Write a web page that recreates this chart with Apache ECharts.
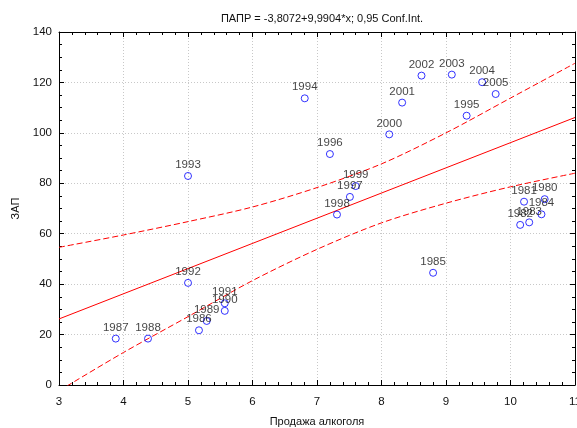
<!DOCTYPE html>
<html>
<head>
<meta charset="utf-8">
<script src="https://cdn.jsdelivr.net/npm/echarts@6/dist/echarts.min.js"></script>
<style>
  html, body { margin: 0; padding: 0; background: #fff; overflow: hidden; }
  #chart { width: 577px; height: 428px; }
</style>
</head>
<body>
<div id="chart"></div>
<script>
// годы (подписи точек)
const years = [1980, 1981, 1982, 1983, 1984, 1985, 1986, 1987, 1988, 1989, 1990, 1991, 1992,
  1993, 1994, 1995, 1996, 1997, 1998, 1999, 2000, 2001, 2002, 2003, 2004, 2005]
// Продажа алкоголя
const alcohol = [10.53, 10.21, 10.15, 10.29, 10.48, 8.80, 5.17, 3.88, 4.38, 5.29, 5.57, 5.57, 5.00,
  5.00, 6.81, 9.32, 7.20, 7.51, 7.31, 7.60, 8.12, 8.32, 8.62, 9.09, 9.56, 9.77]
// ЗАП
const zap = [73.7, 72.7, 63.5, 64.5, 67.7, 44.5, 21.7, 18.4, 18.4, 25.4, 29.4, 32.4, 40.5,
  82.9, 113.7, 106.8, 91.6, 74.6, 67.6, 78.9, 99.4, 112.0, 122.7, 123.1, 120.1, 115.4]

// линия регрессии
const regX = [3, 11]
const regY = [26.2, 106.1]

// доверительный интервал 0,95
const bandX = [3, 4, 5, 6, 7, 8, 9, 10, 11]
const upperBand = [54.6, 59.5, 64.8, 70.6, 78.3, 87.7, 100.0, 113.8, 127.6]
const lowerBand = [-2.3, 12.9, 27.1, 41.4, 53.8, 64.3, 72.1, 78.6, 84.0]

const xTicks = [3, 4, 5, 6, 7, 8, 9, 10, 11]
const yTicks = [0, 20, 40, 60, 80, 100, 120, 140]

const font = 'Arial, "Liberation Sans", sans-serif'
const myChart = echarts.init(document.getElementById('chart'))

const points = alcohol.map((x, i) => [x, zap[i], years[i]])
const pair = (xs, ys) => xs.map((x, i) => [x, ys[i]])

const baseX = {
  type: 'value',
  min: xTicks[0],
  max: xTicks[xTicks.length - 1],
  interval: 1,
  axisLine: { show: true, onZero: false, lineStyle: { color: '#000', width: 1 } },
  axisTick: { show: true, inside: true, length: 5, lineStyle: { color: '#000' } },
  minorTick: { show: true, splitNumber: 5, length: 3, lineStyle: { color: '#000' } }
}
const baseY = {
  type: 'value',
  min: yTicks[0],
  max: yTicks[yTicks.length - 1],
  interval: 20,
  axisLine: { show: true, onZero: false, lineStyle: { color: '#000', width: 1 } },
  axisTick: { show: true, inside: true, length: 5, lineStyle: { color: '#000' } },
  minorTick: { show: true, splitNumber: 4, length: 3, lineStyle: { color: '#000' } }
}

const bandStyle = { color: '#ff0000', width: 1, type: [6, 3] }

const option = {
  animation: false,
  backgroundColor: '#fff',
  textStyle: { fontFamily: font },
  title: {
    text: 'ПАПР = -3,8072+9,9904*x; 0,95 Conf.Int.',
    left: 317,
    textAlign: 'center',
    top: 8,
    textStyle: { fontSize: 11, fontWeight: 'normal', color: '#111', fontFamily: font }
  },
  grid: { left: 59, right: 2, top: 32, bottom: 43, containLabel: false, outerBoundsMode: 'none' },
  xAxis: [
    Object.assign({}, baseX, {
      position: 'bottom',
      name: 'Продажа алкоголя',
      nameLocation: 'middle',
      nameGap: 31,
      nameTextStyle: { fontSize: 11, color: '#111', fontFamily: font },
      axisLabel: { fontSize: 11.5, color: '#111', margin: 11, fontFamily: font },
      splitLine: { show: true, lineStyle: { color: '#c8c8c8', type: [1, 2] } }
    }),
    Object.assign({}, baseX, {
      position: 'top',
      axisLabel: { show: false },
      splitLine: { show: false }
    })
  ],
  yAxis: [
    Object.assign({}, baseY, {
      position: 'left',
      name: 'ЗАП',
      nameLocation: 'middle',
      nameGap: 31,
      nameRotate: 90,
      nameTextStyle: { fontSize: 11, color: '#111', fontFamily: font },
      axisLabel: { fontSize: 11.5, color: '#111', margin: 7, fontFamily: font },
      splitLine: { show: true, lineStyle: { color: '#c8c8c8', type: [1, 2] } }
    }),
    Object.assign({}, baseY, {
      position: 'right',
      axisLabel: { show: false },
      splitLine: { show: false }
    })
  ],
  series: [
    {
      name: 'upper',
      type: 'line',
      data: pair(bandX, upperBand),
      smooth: 0.3,
      symbol: 'none',
      lineStyle: bandStyle,
      z: 2
    },
    {
      name: 'lower',
      type: 'line',
      data: pair(bandX, lowerBand),
      smooth: 0.3,
      symbol: 'none',
      lineStyle: bandStyle,
      z: 2
    },
    {
      name: 'regression',
      type: 'line',
      data: pair(regX, regY),
      symbol: 'none',
      lineStyle: { color: '#ff0000', width: 1 },
      z: 2
    },
    {
      name: 'points',
      type: 'scatter',
      data: points,
      symbol: 'circle',
      symbolSize: 7,
      itemStyle: { color: 'rgba(255,255,255,0)', borderColor: '#0000ff', borderWidth: 1 },
      label: {
        show: true,
        position: 'top',
        distance: 1,
        formatter: p => p.value[2],
        fontSize: 11.5,
        color: '#111',
        fontFamily: font
      },
      labelLayout: { hideOverlap: false },
      z: 3
    }
  ]
}

myChart.setOption(option)
</script>
</body>
</html>
